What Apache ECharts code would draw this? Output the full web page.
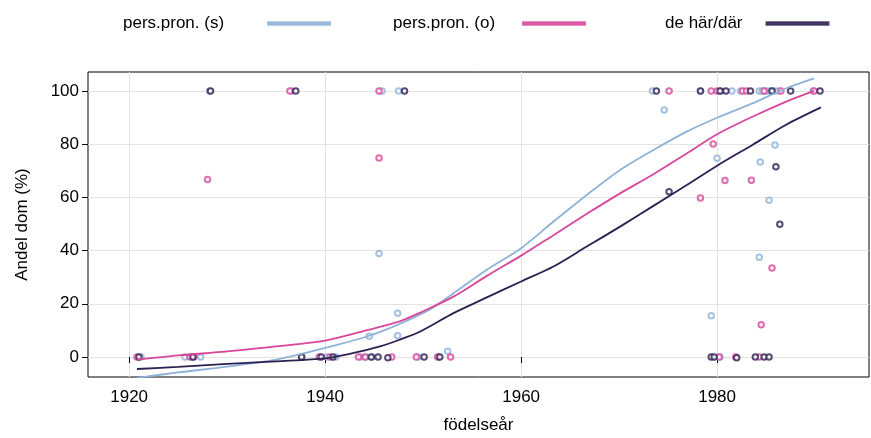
<!DOCTYPE html>
<html>
<head>
<meta charset="utf-8">
<script src="https://cdn.jsdelivr.net/npm/echarts@6/dist/echarts.min.js"></script>
<style>html,body{margin:0;padding:0;background:#fff}#c{width:871px;height:438px}</style>
</head>
<body>
<div id="c"></div>
<script>
// ---- data ----
const seriesNames = ['pers.pron. (s)', 'pers.pron. (o)', 'de här/där'];
const xTicks = [1920, 1940, 1960, 1980];
const yTicks = [0, 20, 40, 60, 80, 100];

const sPoints = [[1921.2,0],[1925.7,0],[1927.3,0],[1928.2,100],[1936.6,100],[1937.6,0],[1940.2,0],[1941.1,0],[1943.6,0],[1944.1,0],[1944.5,7.8],[1944.8,0],[1945.5,38.9],[1945.8,100],[1947.4,16.5],[1947.4,8.0],[1947.5,100],[1949.5,0],[1951.5,0],[1952.5,2.2],[1973.4,100],[1974.6,92.8],[1978.3,100],[1979.4,15.5],[1980.0,74.7],[1980.3,0],[1980.4,100],[1981.5,100],[1982.4,100],[1984.3,37.5],[1984.4,73.3],[1984.3,100],[1984.6,100],[1984.9,100],[1985.2,100],[1985.3,58.9],[1985.5,100],[1985.8,100],[1985.9,79.7],[1986.2,100],[1989.8,100]];
const oPoints = [[1920.8,0],[1926.2,0],[1926.6,0],[1928.0,66.7],[1936.4,100],[1939.4,0],[1940.5,0],[1943.4,0],[1944.1,0],[1945.5,100],[1945.5,74.8],[1946.8,0],[1949.3,0],[1951.5,0],[1952.8,0],[1975.1,100],[1978.3,59.8],[1979.4,100],[1979.6,80.0],[1980.0,100],[1980.2,0],[1980.8,66.3],[1981.9,0],[1982.6,100],[1983.0,100],[1983.5,66.4],[1984.3,0],[1984.5,12.1],[1984.8,100],[1985.6,33.5],[1986.5,100],[1989.9,100]];
const dPoints = [[1921.0,0],[1926.5,0],[1928.3,100],[1937.0,100],[1937.6,0],[1939.6,0],[1940.8,0],[1944.7,0],[1945.4,0],[1946.4,-0.3],[1948.1,100],[1950.1,0],[1951.7,0],[1973.8,100],[1975.1,62.1],[1978.3,100],[1979.4,0],[1979.7,0],[1980.3,100],[1980.9,100],[1982.0,-0.3],[1983.4,100],[1983.9,0],[1984.8,0],[1985.3,0],[1985.6,100],[1986.0,71.5],[1986.4,49.9],[1987.5,100],[1990.5,100]];

const sLineYears = [1920.8,1925,1930,1935,1940,1944.4,1947.5,1950.7,1953.1,1956.5,1960,1963.3,1966.7,1970.1,1973.5,1976.9,1980,1983.6,1987,1989.9];
const sLineVals  = [-7.8,-5.8,-3.6,-1.0,3.4,7.9,12.3,17.9,24.0,32.8,40.9,50.9,60.9,70.3,77.8,84.7,89.9,95.3,100.9,104.7];
const oLineYears = [1920.8,1925,1930,1935,1940,1944.4,1947.6,1949.7,1953.1,1956.5,1960,1963.3,1966.7,1970.1,1973.5,1976.9,1980,1983.6,1987,1989.9];
const oLineVals  = [-1.0,0.6,2.1,4.0,6.2,10.2,13.4,16.7,22.7,30.5,38.1,45.8,53.8,61.5,68.7,76.5,83.7,90.3,95.9,100.0];
const dLineYears = [1920.8,1925,1930,1935,1940,1942.5,1945.6,1947.6,1949.7,1953.1,1956.5,1960,1963.3,1966.7,1970.1,1973.5,1976.9,1980,1983.6,1987,1990.6];
const dLineVals  = [-4.5,-3.7,-2.6,-1.6,-0.5,1.2,4.0,6.5,9.6,16.5,22.4,28.4,34.0,41.5,49.0,56.8,64.6,71.9,79.7,87.2,93.8];

const colors = ['#8fb3d8', '#d9479a', '#2e1f52'];
const FONT = 'Liberation Sans';

const zip = (xs, ys) => xs.map((x, i) => [x, ys[i]]);
const lines = [zip(sLineYears, sLineVals), zip(oLineYears, oLineVals), zip(dLineYears, dLineVals)];
const points = [sPoints, oPoints, dPoints];

const series = [];
for (let i = 0; i < 3; i++) {
  series.push({
    name: seriesNames[i], type: 'scatter', data: points[i],
    symbol: 'emptyCircle', symbolSize: 5.5,
    itemStyle: { color: colors[i], borderColor: colors[i], borderWidth: 1.1 },
    emphasis: { disabled: true }, silent: true, z: 2
  });
}
for (let i = 0; i < 3; i++) {
  series.push({
    name: seriesNames[i], type: 'line', data: lines[i], smooth: 0.3,
    showSymbol: false, symbol: 'none', clip: true,
    lineStyle: { color: colors[i], width: 1.8 },
    itemStyle: { color: colors[i] },
    silent: true, z: 3
  });
}

const legendLefts = [118, 388, 660];
const legendGaps = [44, 28, 24];
const legends = seriesNames.map((n, i) => ({
  data: [{ name: n, icon: 'rect', itemStyle: { color: colors[i] } }],
  left: legendLefts[i], top: 10, align: 'right', orient: 'horizontal',
  itemWidth: 62, itemHeight: 2.5, selectedMode: false,
  textStyle: { fontFamily: FONT, fontSize: 17, color: '#000', padding: [0, legendGaps[i] - 5, 0, 0] }
}));

const chart = echarts.init(document.getElementById('c'), null, { renderer: 'canvas' });
chart.setOption({
  animation: false,
  backgroundColor: '#fff',
  legend: legends,
  grid: { left: 88, right: 2, top: 72, bottom: 61, containLabel: false, outerBoundsMode: 'none', show: true, borderColor: '#000', borderWidth: 1, backgroundColor: 'transparent' },
  xAxis: {
    type: 'value', min: 1915.8, max: 1995.5,
    name: 'födelseår', nameLocation: 'middle', nameGap: 40,
    nameTextStyle: { fontFamily: FONT, fontSize: 17, color: '#000' },
    axisLine: { show: false },
    axisTick: { show: true, length: 6, inside: false, customValues: xTicks, lineStyle: { color: '#000', width: 1 } },
    axisLabel: { customValues: xTicks, formatter: v => String(v), fontFamily: FONT, fontSize: 17, color: '#000', margin: 12 },
    splitLine: { show: true, lineStyle: { color: '#e3e3e3', width: 1 } }
  },
  yAxis: {
    type: 'value', min: -7.5, max: 107.1,
    name: 'Andel dom (%)', nameLocation: 'middle', nameGap: 57,
    nameTextStyle: { fontFamily: FONT, fontSize: 17, color: '#000' },
    axisLine: { show: false },
    axisTick: { show: true, length: 6, inside: false, customValues: yTicks, lineStyle: { color: '#000', width: 1 } },
    axisLabel: { customValues: yTicks, formatter: v => String(v), fontFamily: FONT, fontSize: 17, color: '#000', margin: 9 },
    splitLine: { show: true, lineStyle: { color: '#e3e3e3', width: 1 } }
  },
  series: series
});
</script>
</body>
</html>
